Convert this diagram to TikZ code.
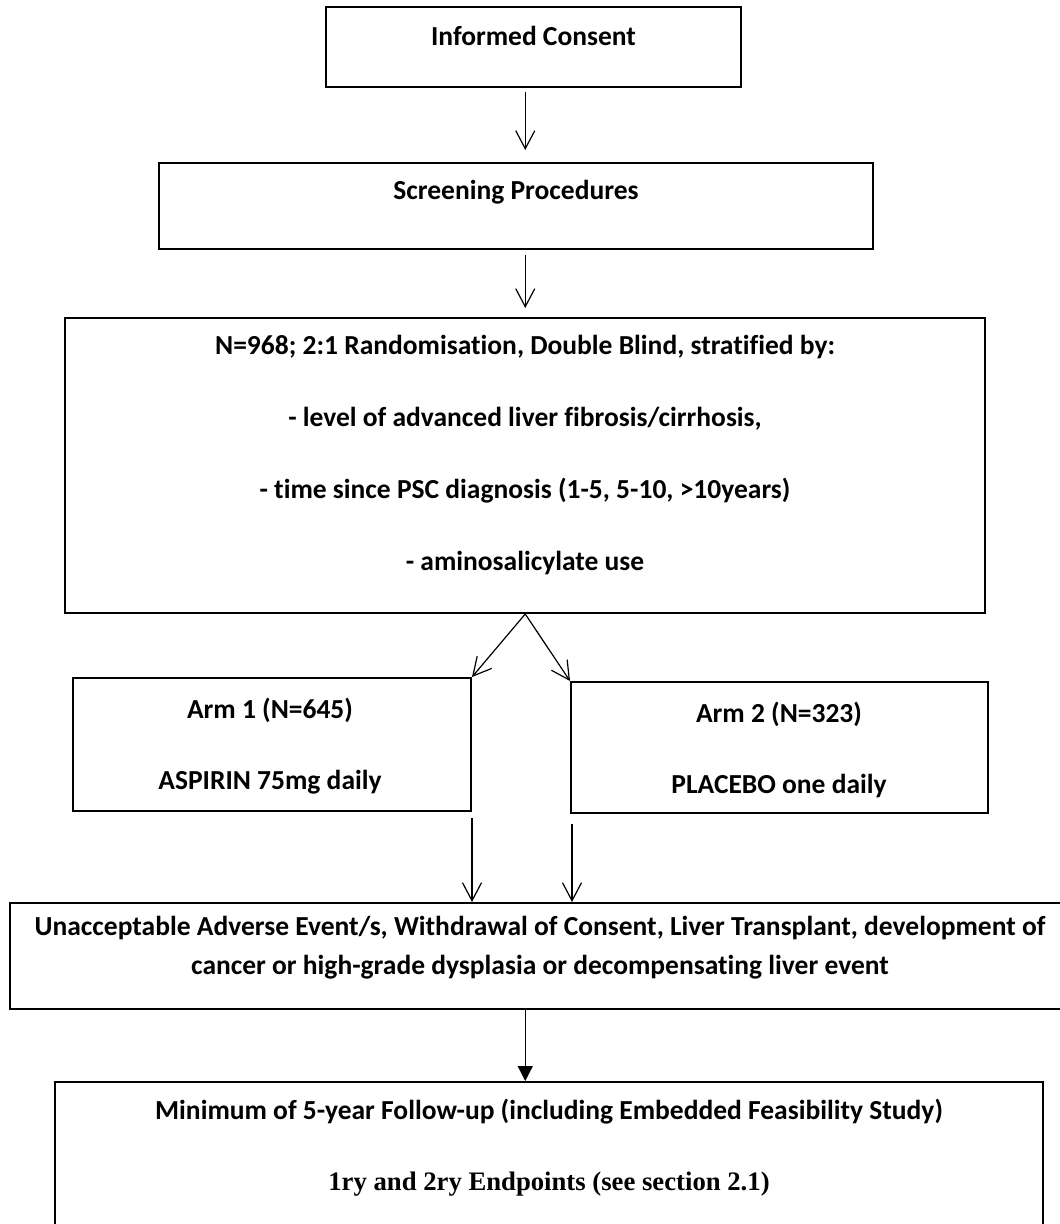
\documentclass[tikz,border=0pt]{standalone}
\usepackage{fontspec}
\setmainfont{Carlito}[Ligatures=NoCommon]
\newfontfamily\endptfont{Liberation Serif}
\usetikzlibrary{arrows.meta}

\tikzset{
  box/.style={draw,line width=1pt,inner sep=0pt},
  boxtext/.style={align=center,inner sep=0pt,font=\fontsize{13.75}{#1}\selectfont\bfseries},
  boxtext/.default=17,
  flow/.style={-{Straight Barb[length=9pt,width=9.5pt]},line width=0.6pt},
  flowfill/.style={-{Triangle[length=7.5pt,width=7.5pt]},line width=0.6pt}
}

\begin{document}
\begin{tikzpicture}[x=0.5pt,y=-0.5pt]
\useasboundingbox (0,0) rectangle (1059,1224);
\node[box,minimum width=207.5pt,minimum height=40pt] (consent) at (533.5,47) {};
\node[box,minimum width=357pt,minimum height=43pt] (screen) at (516,206) {};
\node[box,minimum width=460pt,minimum height=147.5pt] (rand) at (525.25,465.5) {};
\node[box,minimum width=199pt,minimum height=66.5pt] (arm1) at (272,744.5) {};
\node[box,minimum width=208.5pt,minimum height=65.5pt] (arm2) at (779.5,747.5) {};
\node[box,minimum width=530.25pt,minimum height=53pt] (events) at (539.75,956) {};
\node[box,minimum width=494pt,minimum height=100pt] (follow) at (549,1182) {};

\node[boxtext] (consentT) at (533.5,36) {Informed Consent};
\node[boxtext] (screenT) at (516,192) {Screening Procedures};
\node[boxtext=36] (randT) at (525,455) {N=968; 2:1 Randomisation, Double Blind, stratified by:\\- level of advanced liver fibrosis/cirrhosis,\\- time since PSC diagnosis (1-5, 5-10, >10years)\\- aminosalicylate use};
\node[boxtext=35.5] (arm1T) at (270,746.5) {Arm 1 (N=645)\\ASPIRIN 75mg daily};
\node[boxtext=35.5] (arm2T) at (779,750) {Arm 2 (N=323)\\PLACEBO one daily};
\node[boxtext=19.5] (eventsT) at (540,947.5) {Unacceptable Adverse Event/s, Withdrawal of Consent, Liver Transplant, development of\\cancer or high-grade dysplasia or decompensating liver event};
\node[boxtext=35.5] (followT) at (549,1147.5) {Minimum of 5-year Follow-up (including Embedded Feasibility Study)\\{\endptfont\fontsize{13.35}{35.5}\selectfont 1ry and 2ry Endpoints (see section 2.1)}};

\draw[flow,shorten <=2pt,shorten >=6pt] (consent.south -| rand.north) -- (screen.north -| rand.north);
\draw[flow,shorten <=2.5pt,shorten >=4.5pt] (screen.south -| rand.north) -- (rand.north);
\draw[flow] (rand.south) -- (arm1.north east);
\draw[flow] (rand.south) -- (arm2.north west);
\draw[flow,shorten <=3pt] (arm1.south east) -- (arm1.south east |- events.north);
\draw[flow,shorten <=5pt] ([xshift=1pt]arm2.south west) -- ([xshift=1pt]arm2.south west |- events.north);
\draw[flowfill] (events.south -| rand.south) -- (follow.north -| rand.south);
\end{tikzpicture}
\end{document}
